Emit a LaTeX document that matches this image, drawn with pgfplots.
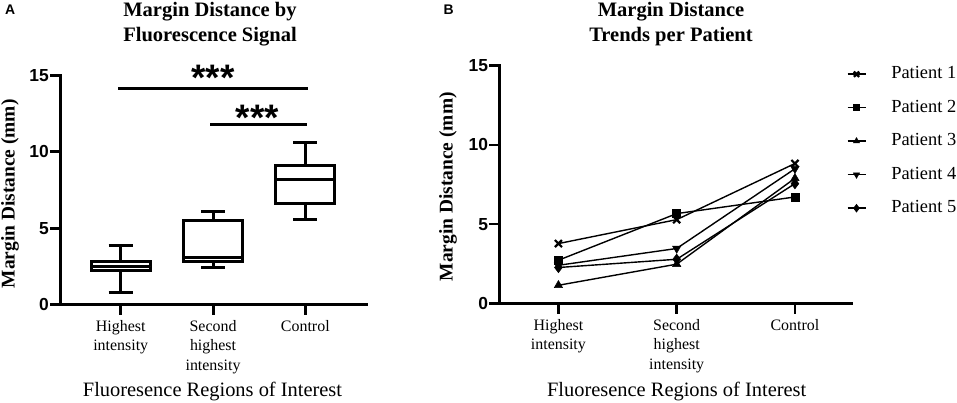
\documentclass[border=0pt]{standalone}
\usepackage{fontspec}
\setmainfont{Liberation Serif}
\setsansfont{Liberation Sans}
\usepackage{pgfplots}
\pgfplotsset{compat=1.18}
\usepgfplotslibrary{statistics}

\begin{document}
\begin{tikzpicture}
\path[use as bounding box] (0bp,0bp) rectangle (957bp,403bp);

\pgfplotsset{
  gp/.style={
    scale only axis,
    axis lines=left,
    axis line style={-, line width=#1, line cap=rect},
    tick align=outside,
    xtick pos=left, ytick pos=left,
    major tick length=10bp,
    tick style={line width=#1, black},
    ymin=0, ymax=15, ytick={0,5,10,15},
    yticklabel style={font=\fontsize{17.5}{17.5}\sffamily\bfseries, inner xsep=1bp},
    /pgf/number format/assume math mode=true,
    xtick={0,1,2},
    xticklabels={{Highest\\intensity},{Second\\highest\\intensity},{Control}},
    xticklabel style={font=\fontsize{16}{19.2}\selectfont, align=center, inner ysep=6bp},
    clip=false,
  }
}

% ---------- Panel A ----------
\begin{axis}[gp=3bp,
  at={(60bp,98.5bp)}, anchor=south west,
  width=306.7bp, height=228.8bp,
  xmin=-0.658, xmax=2.665,
  boxplot/draw direction=y,
]
\addplot[black, line width=3bp, fill=white,
  boxplot prepared={draw position=0, lower whisker=0.8, lower quartile=2.2,
    median=2.5, upper quartile=2.85, upper whisker=3.9,
    box extend=0.64, whisker extend=0.26}] coordinates {};
\addplot[black, line width=3bp, fill=white,
  boxplot prepared={draw position=1, lower whisker=2.4, lower quartile=2.8,
    median=3.05, upper quartile=5.5, upper whisker=6.1,
    box extend=0.63, whisker extend=0.25}] coordinates {};
\addplot[black, line width=3bp, fill=white,
  boxplot prepared={draw position=2, lower whisker=5.55, lower quartile=6.6,
    median=8.2, upper quartile=9.1, upper whisker=10.6,
    box extend=0.64, whisker extend=0.26}] coordinates {};
% significance bars
\addplot[black, line width=3bp] coordinates {(-0.026,14.18) (2.03,14.18)};
\addplot[black, line width=3bp] coordinates {(0.97,11.77) (2.015,11.77)};
\node[anchor=base, inner sep=0pt, font=\fontsize{37}{37}\sffamily\bfseries] at (axis cs:1.0,14.01) {***};
\node[anchor=base, inner sep=0pt, font=\fontsize{37}{37}\sffamily\bfseries] at (axis cs:1.48,11.39) {***};
% x tick marks
\draw[line width=3bp, black] (axis cs:0,0) -- ++(0bp,-10bp);
\draw[line width=3bp, black] (axis cs:1,0) -- ++(0bp,-10bp);
\draw[line width=3bp, black] (axis cs:2,0) -- ++(0bp,-10bp);
\end{axis}

% ---------- Panel B ----------
\begin{axis}[gp=2.5bp,
  at={(499.3bp,99.5bp)}, anchor=south west,
  width=352.4bp, height=237.8bp,
  xmin=-0.5, xmax=2.48,
  legend cell align=left,
  legend style={draw=none, fill=none, inner sep=0pt, outer sep=0pt,
    at={(0.9858,1.0)}, anchor=north west,
    font=\fontsize{18.5}{18.5}\selectfont,
    nodes={inner sep=0pt, text height=13bp, text depth=4bp},
    row sep=16.5bp, column sep=25bp},
  legend image code/.code={
    \draw[#1, mark=none, line width=1.6bp] (0bp,0bp) -- (18bp,0bp);
    \draw[#1, only marks, every mark/.append style={scale=0.75}] plot coordinates {(9bp,0bp)};
  },
]
\addplot[black, line width=1.4bp, mark=x, mark size=5bp, mark options={line width=2.2bp}]
  coordinates {(0,3.78) (1,5.29) (2,8.83)};
\addlegendentry{Patient 1}
\addplot[black, line width=1.4bp, mark=square*, mark size=4bp, mark options={line width=0.5bp}]
  coordinates {(0,2.73) (1,5.67) (2,6.72)};
\addlegendentry{Patient 2}
\addplot[black, line width=1.4bp, mark=triangle*, mark size=4.8bp, mark options={line width=0.5bp}]
  coordinates {(0,1.15) (1,2.48) (2,7.9)};
\addlegendentry{Patient 3}
\addplot[black, line width=1.4bp, mark=triangle*, mark size=4.8bp, mark options={line width=0.5bp, rotate=180}]
  coordinates {(0,2.41) (1,3.47) (2,8.5)};
\addlegendentry{Patient 4}
\addplot[black, line width=1.4bp, mark=diamond*, mark size=5.2bp, mark options={line width=0.5bp}]
  coordinates {(0,2.27) (1,2.79) (2,7.56)};
\addlegendentry{Patient 5}
\draw[line width=2.5bp, black] (axis cs:0,0) -- ++(0bp,-10bp);
\draw[line width=2.5bp, black] (axis cs:1,0) -- ++(0bp,-10bp);
\draw[line width=2.5bp, black] (axis cs:2,0) -- ++(0bp,-10bp);
\end{axis}

% ---------- Texts ----------
\node[anchor=base west, inner sep=0pt, font=\fontsize{14}{14}\sffamily\bfseries] at (5bp,388bp) {A};
\node[anchor=base west, inner sep=0pt, font=\fontsize{14}{14}\sffamily\bfseries] at (443.3bp,388bp) {B};

\node[anchor=base, inner sep=0pt, font=\fontsize{20.6}{20.6}\bfseries] at (210bp,386.3bp) {Margin Distance by};
\node[anchor=base, inner sep=0pt, font=\fontsize{20.6}{20.6}\bfseries] at (210bp,361.3bp) {Fluorescence Signal};
\node[anchor=base, inner sep=0pt, font=\fontsize{20.6}{20.6}\bfseries] at (671bp,386.3bp) {Margin Distance};
\node[anchor=base, inner sep=0pt, font=\fontsize{20.6}{20.6}\bfseries] at (671bp,361.3bp) {Trends per Patient};

\node[rotate=90, inner sep=0pt, font=\fontsize{19.5}{19.5}\bfseries] at (10bp,209.2bp) {Margin Distance (mm)};
\node[rotate=90, inner sep=0pt, font=\fontsize{19.5}{19.5}\bfseries] at (448bp,216.3bp) {Margin Distance (mm)};

\node[anchor=base, inner sep=0pt, font=\fontsize{20.5}{20.5}\selectfont] at (212.5bp,6.3bp) {Fluoresence Regions of Interest};
\node[anchor=base, inner sep=0pt, font=\fontsize{20.5}{20.5}\selectfont] at (676.7bp,6.3bp) {Fluoresence Regions of Interest};
\end{tikzpicture}
\end{document}
